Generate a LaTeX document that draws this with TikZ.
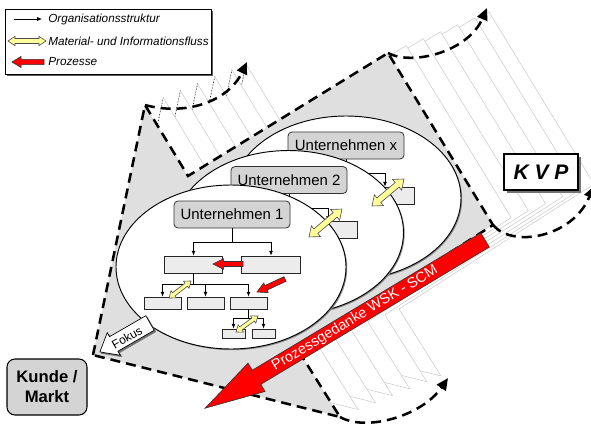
\documentclass[tikz,border=0pt]{standalone}
\usepackage{fontspec}
\setmainfont{Liberation Sans}
\usetikzlibrary{arrows.meta,shapes.geometric,shadows}

\definecolor{fangray}{gray}{0.875}
\definecolor{trailgray}{gray}{0.80}
\definecolor{boxfill}{gray}{0.925}
\definecolor{headfill}{gray}{0.83}
\definecolor{flowyellow}{HTML}{FFFF99}
\definecolor{procred}{HTML}{FF0000}

\tikzset{
  orgbox/.style={draw=black!85, fill=boxfill, line width=0.6pt, inner sep=0pt},
  bigbox/.style={orgbox, minimum width=44pt, minimum height=12.75pt},
  smallbox/.style={orgbox, minimum width=27.75pt, minimum height=9pt},
  tinybox/.style={orgbox, minimum width=17.25pt, minimum height=6.75pt},
  headbox/.style={draw=black!80, fill=headfill, line width=0.6pt, rounded corners=3pt,
    minimum width=87pt, minimum height=20.25pt, inner sep=0pt,
    font=\fontsize{11.2}{13}\selectfont},
  orgline/.style={line width=0.5pt, -{Latex[length=3.6pt,width=3pt]}},
  flow/.style={fill=flowyellow, draw=black!70, line width=0.45pt},
  proc/.style={fill=procred, draw=black!80, line width=0.45pt},
  trail/.style={fill=white, draw=trailgray, line width=0.4pt},
  trailedge/.style={draw=black, line width=0.45pt, dash pattern=on 0.6pt off 1.6pt},
  fanfill/.style={fill=fangray, draw=black, line width=1.9pt, dash pattern=on 7.5pt off 4.5pt},
  sweep/.style={draw=black, line width=1.9pt, dash pattern=on 7.5pt off 4.5pt,
    -{Triangle[length=9pt,width=8pt]}},
  company/.style={ellipse, draw=black, fill=white, line width=0.7pt,
    minimum width=172.5pt, minimum height=123pt, inner sep=0pt,
    drop shadow={shadow xshift=0.9pt, shadow yshift=-0.9pt, fill=black!45, opacity=1}},
  legtext/.style={anchor=west, inner sep=0pt, font=\fontsize{8.8}{10}\selectfont\itshape},
}

% outline of the focus region
\newcommand\fanpath{(93,355) -- (145,105) -- (188,176) -- (388,53) -- (493,225) -- (298,350) -- (340,417) -- cycle}

% double block arrow: centre, angle, half length, head length, head half width, shaft half width
\newcommand\dblarrow[6]{%
  \begin{scope}[shift={#1},rotate=#2]
    \filldraw[flow] (-#3,0) -- ({-#3+#4},#5) -- ({-#3+#4},#6) -- ({#3-#4},#6) -- ({#3-#4},#5)
      -- (#3,0) -- ({#3-#4},-#5) -- ({#3-#4},-#6) -- ({-#3+#4},-#6) -- ({-#3+#4},-#5) -- cycle;
  \end{scope}}

% single block arrow: tail, angle, length, head length, head half width, shaft half width, style
\newcommand\blockarrow[7]{%
  \begin{scope}[shift={#1},rotate=#2]
    \filldraw[#7] (0,#6) -- ({#3-#4},#6) -- ({#3-#4},#5) -- (#3,0) -- ({#3-#4},-#5)
      -- ({#3-#4},-#6) -- (0,-#6) -- cycle;
  \end{scope}}

% organisation chart of one company: name suffix, shift, title
\newcommand\orgchart[3]{%
  \begin{scope}[shift={#2}]
    \node[headbox] (U#1) at (232,214.5) {#3};
    \node[bigbox] (A#1) at (193.5,264.5) {};
    \node[bigbox] (B#1) at (271,264.5) {};
    \node[smallbox] (C#1) at (162.5,303) {};
    \node[smallbox] (D#1) at (205.5,303) {};
    \node[smallbox] (E#1) at (248.5,303) {};
    \node[tinybox] (F#1) at (233.5,333.5) {};
    \node[tinybox] (G#1) at (263.5,333.5) {};
    \draw[orgline] (U#1.south) -- ++(0,14) -| (A#1.north);
    \draw[orgline] (U#1.south) -- ++(0,14) -| (B#1.north);
    \draw[orgline] (A#1.south) -- ++(0,11) -| (C#1.north);
    \draw[orgline] (A#1.south) -- ++(0,11) -| (D#1.north);
    \draw[orgline] (A#1.south) -- ++(0,11) -| (E#1.north);
    \draw[orgline] (E#1.south) -- ++(0,9) -| (F#1.north);
    \draw[orgline] (E#1.south) -- ++(0,9) -| (G#1.north);
  \end{scope}}

\begin{document}
\begin{tikzpicture}[x=0.75pt,y=-0.75pt]
  \useasboundingbox (0,0) rectangle (591,428);
  \clip (0,0) rectangle (591,428);

  % trail of the shifted focus region, back to front
  \foreach \t in {1.0,0.86,0.69,0.52,0.35,0.18}{
    \filldraw[trail, shift={({101*\t},{-41*\t})}] \fanpath;
    \draw[trailedge, shift={({101*\t},{-41*\t})}] (93,355) -- (145,105);
  }
  \filldraw[fanfill] \fanpath;

  % sweeping arrows at the corners
  \coordinate (p2) at (145,105);  \coordinate (q2) at (247,62);
  \coordinate (p4) at (388,53);   \coordinate (q4) at (487,8);
  \coordinate (p5) at (493,225);  \coordinate (q5) at (594,186);
  \coordinate (p7) at (340,417);  \coordinate (q7) at (448,378);
  \draw[sweep] (p2) .. controls (185,116) and (228,102) .. (q2);
  \draw[sweep] (p4) .. controls (412,66) and (468,52) .. (q4);
  \draw[sweep] (p5) .. controls (512,248) and (572,238) .. (q5);
  \draw[sweep] (p7) .. controls (366,432) and (422,416) .. (q7);

  % companies, back to front
  \node[company] (Ex) at (346,198) {};
  \orgchart{x}{(114,-69)}{Unternehmen x}
  \node[company] (E2) at (288.5,232.5) {};
  \orgchart{2}{(57,-34.5)}{Unternehmen 2}
  \node[company] (E1) at (231,267) {};
  \orgchart{1}{(0,0)}{Unternehmen 1}

  % processes and flows inside company 1
  \blockarrow{(243,264)}{180}{22.5pt}{8pt}{4pt}{1.9pt}{proc}
  \blockarrow{(285,279)}{204.9}{23.2pt}{7.5pt}{4pt}{1.9pt}{proc}
  \dblarrow{(180,289.5)}{37.7}{10.4pt}{4.5pt}{3.4pt}{1.5pt}
  \dblarrow{(247,324)}{36}{10.2pt}{4.5pt}{3.4pt}{1.5pt}

  % flows between the companies
  \dblarrow{(325.5,223)}{40.3}{16.2pt}{6.75pt}{5.25pt}{2.25pt}
  \dblarrow{(388,192.5)}{40.2}{15.7pt}{6.75pt}{5.25pt}{2.25pt}

  % process idea along the supply chain
  \blockarrow{(485,240)}{211}{244.9pt}{45pt}{12.4pt}{6.2pt}{proc}
  \node[text=white, rotate=31, inner sep=0pt, font=\fontsize{10.9}{12}\selectfont] (wsk) at (355,318.5)
    {Prozessgedanke WSK - SCM};

  % focus arrow towards the customer
  \begin{scope}[shift={(1.5,1.5)}]
    \blockarrow{(150,323)}{210}{43.4pt}{12pt}{9.75pt}{6.3pt}{fill=black!55, draw=black!55}
  \end{scope}
  \blockarrow{(150,323)}{210}{43.4pt}{12pt}{9.75pt}{6.3pt}{fill=white, draw=black, line width=0.5pt}
  \node[rotate=30, inner sep=0pt, font=\fontsize{9}{11}\selectfont] (fokus) at (127,337.5) {Fokus};

  % customer / market
  \node[draw=black, fill=headfill, line width=0.8pt, rounded corners=6pt,
    minimum width=60pt, minimum height=42pt, align=center,
    font=\fontsize{12.5}{15}\selectfont\bfseries] (kunde) at (47,387) {Kunde /\\Markt};

  % continuous improvement
  \node[draw=black, fill=white, line width=0.8pt, minimum width=55.5pt, minimum height=27pt,
    drop shadow={shadow xshift=2pt, shadow yshift=-2pt, fill=black!55, opacity=1},
    font=\fontsize{15.8}{18}\selectfont\bfseries\itshape] (kvp) at (541,172) {K V P};

  % legend
  \node[draw=black, fill=white, line width=0.7pt, minimum width=154.5pt, minimum height=48.75pt,
    inner sep=0pt, drop shadow={shadow xshift=1.5pt, shadow yshift=-1.5pt, fill=black!65, opacity=1}]
    (legend) at (108,41.5) {};
  \coordinate (lt) at (14,19);
  \coordinate (lh) at (42,19);
  \draw[orgline] (lt) -- (lh);
  \node[legtext] (lorg) at (48,19) {Organisationsstruktur};
  \dblarrow{(27,41)}{0}{14.25pt}{5.25pt}{3.5pt}{1.9pt}
  \node[legtext] (lflow) at (48,41) {Material- und Informationsfluss};
  \blockarrow{(44,62)}{180}{24pt}{6.75pt}{4.1pt}{1.95pt}{proc}
  \node[legtext] (lproc) at (48,62) {Prozesse};
\end{tikzpicture}
\end{document}
